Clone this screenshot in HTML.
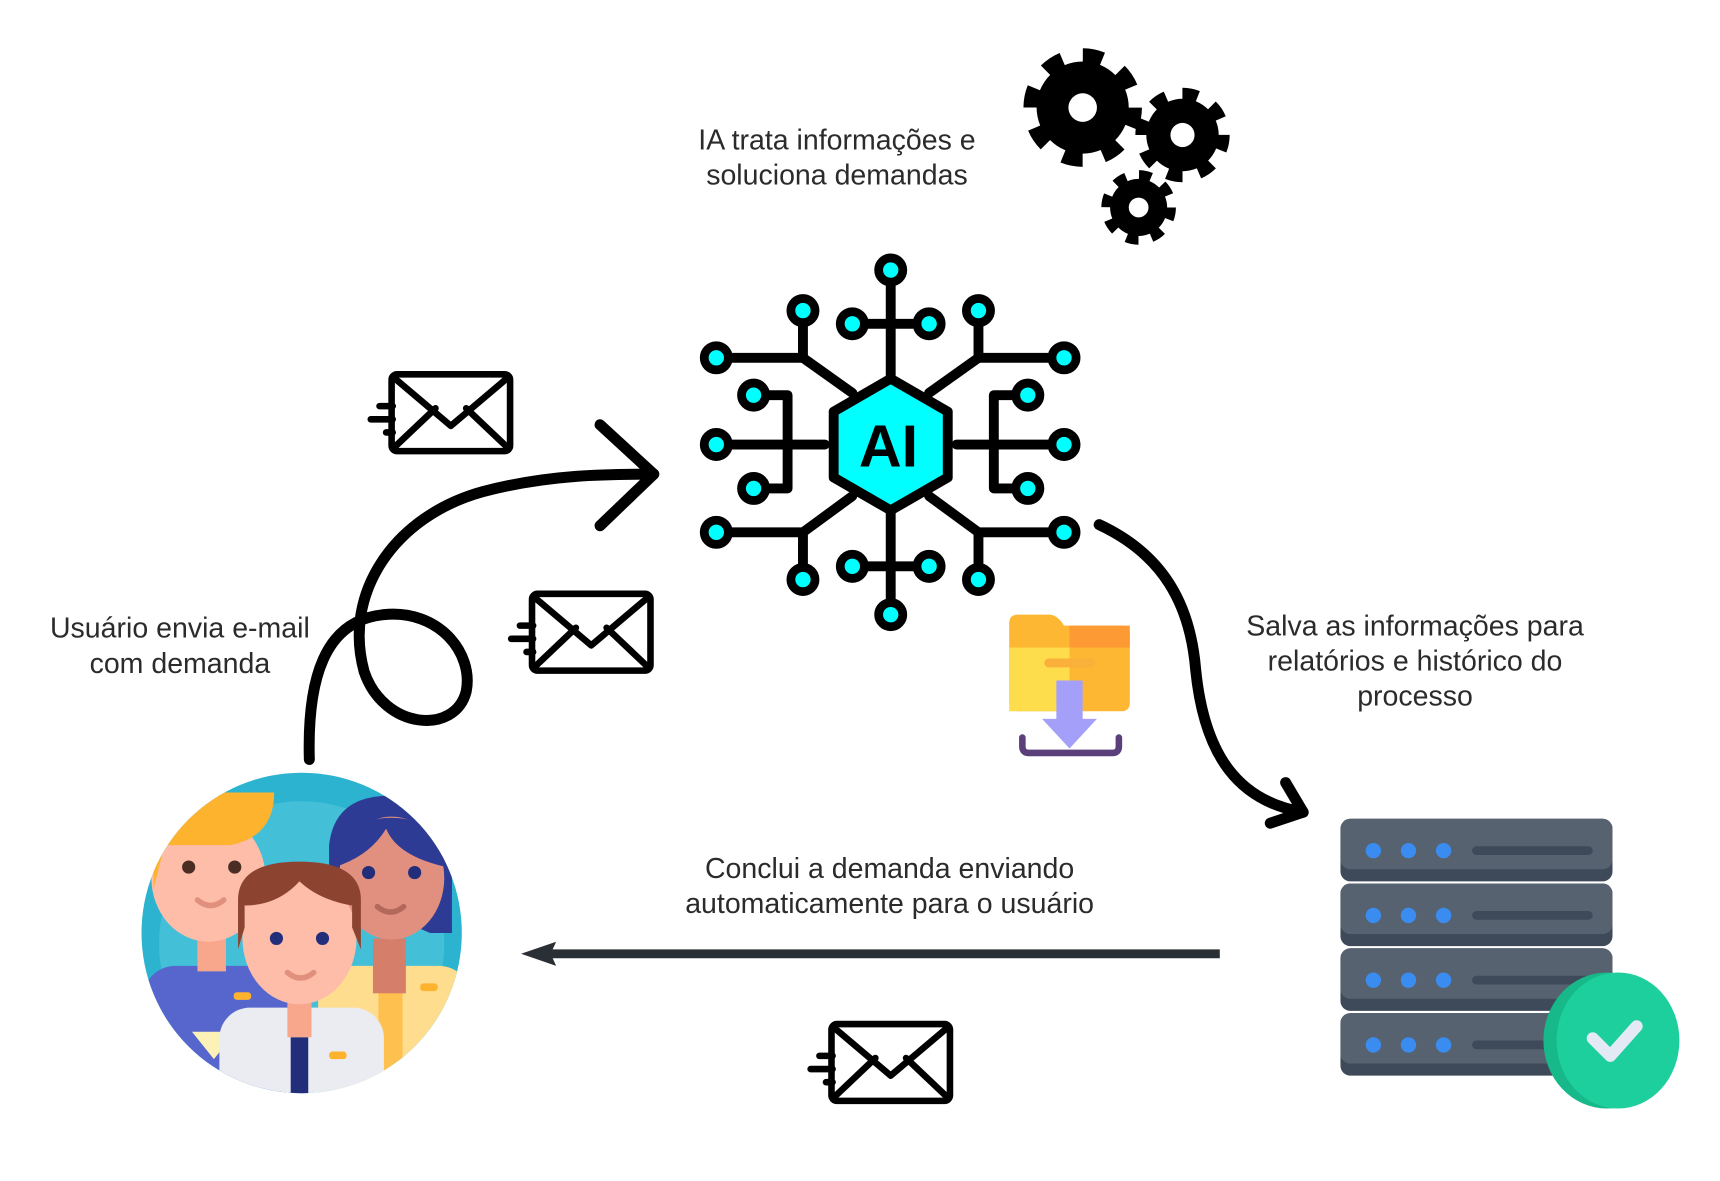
<!DOCTYPE html>
<html><head><meta charset="utf-8"><style>
html,body{margin:0;padding:0;background:#fff;}
svg{display:block}
text{font-family:"Liberation Sans",sans-serif;fill:#2b2b2b;font-size:26px;text-anchor:middle}
</style></head><body>
<svg width="1720" height="1181" viewBox="0 0 1568 1076" preserveAspectRatio="none" xmlns="http://www.w3.org/2000/svg">
<!-- texts -->
<text x="763" y="136">IA trata informações e</text>
<text x="763" y="168">soluciona demandas</text>
<text x="164" y="581">Usuário envia e-mail</text>
<text x="164" y="613">com demanda</text>
<text x="1290" y="579">Salva as informações para</text>
<text x="1290" y="611">relatórios e histórico do</text>
<text x="1290" y="643">processo</text>
<text x="811" y="800">Conclui a demanda enviando</text>
<text x="811" y="832">automaticamente para o usuário</text>

<!-- gears -->
<g fill="#000">
 <circle cx="987" cy="98" r="42"/>
 <circle cx="987" cy="98" r="47" fill="none" stroke="#000" stroke-width="14" stroke-dasharray="18 18.9"/>
 <circle cx="987" cy="98" r="13" fill="#fff"/>
 <circle cx="1078" cy="123" r="33"/>
 <circle cx="1078" cy="123" r="37" fill="none" stroke="#000" stroke-width="12" stroke-dasharray="14 15"/>
 <circle cx="1078" cy="123" r="11" fill="#fff"/>
 <circle cx="1038" cy="189" r="26"/>
 <circle cx="1038" cy="189" r="29" fill="none" stroke="#000" stroke-width="10" stroke-dasharray="11 11.8"/>
 <circle cx="1038" cy="189" r="9" fill="#fff"/>
</g>

<!-- AI chip -->
<g stroke="#000" stroke-width="9" fill="none" stroke-linecap="round" stroke-linejoin="round">
 <line x1="812" y1="256" x2="812" y2="345"/>
 <line x1="786" y1="295" x2="838" y2="295"/>
 <line x1="812" y1="465" x2="812" y2="552"/>
 <line x1="786" y1="516" x2="838" y2="516"/>
 <polyline points="777,358 732,326 732,292"/>
 <line x1="732" y1="326" x2="662" y2="326"/>
 <polyline points="847,358 892,326 892,292"/>
 <line x1="892" y1="326" x2="962" y2="326"/>
 <polyline points="777,452 732,485 732,520"/>
 <line x1="732" y1="485" x2="662" y2="485"/>
 <polyline points="847,452 892,485 892,520"/>
 <line x1="892" y1="485" x2="962" y2="485"/>
 <line x1="752" y1="405" x2="662" y2="405"/>
 <polyline points="696,360 718,360 718,445 696,445"/>
 <line x1="872" y1="405" x2="962" y2="405"/>
 <polyline points="928,360 906,360 906,445 928,445"/>
 <polygon points="812,345 864,375 864,435 812,465 760,435 760,375" fill="#0ff"/>
</g>
<g fill="#0ff" stroke="#000" stroke-width="8">
 <circle cx="812" cy="246" r="11"/><circle cx="777" cy="295" r="11"/><circle cx="847" cy="295" r="11"/>
 <circle cx="732" cy="283" r="11"/><circle cx="892" cy="283" r="11"/>
 <circle cx="653" cy="326" r="11"/><circle cx="970" cy="326" r="11"/>
 <circle cx="687" cy="360" r="11"/><circle cx="937" cy="360" r="11"/>
 <circle cx="653" cy="405" r="11"/><circle cx="970" cy="405" r="11"/>
 <circle cx="687" cy="445" r="11"/><circle cx="937" cy="445" r="11"/>
 <circle cx="653" cy="485" r="11"/><circle cx="970" cy="485" r="11"/>
 <circle cx="777" cy="516" r="11"/><circle cx="847" cy="516" r="11"/>
 <circle cx="732" cy="528" r="11"/><circle cx="892" cy="528" r="11"/>
 <circle cx="812" cy="560" r="11"/>
</g>
<text x="810" y="425" style="font-size:54px;font-weight:bold;fill:#000">AI</text>

<!-- envelopes -->
<g id="env" fill="none" stroke="#000" stroke-width="6" stroke-linecap="round" stroke-linejoin="round">
 <rect x="357" y="341" width="108" height="70" rx="5"/>
 <polyline points="359,344 411,388 463,344"/>
 <line x1="359" y1="408" x2="397" y2="372"/>
 <line x1="463" y1="408" x2="425" y2="372"/>
 <line x1="346" y1="370" x2="358" y2="370"/>
 <line x1="338" y1="382" x2="358" y2="382"/>
 <line x1="352" y1="394" x2="358" y2="394"/>
</g>
<use href="#env" x="128" y="200"/>
<use href="#env" x="401" y="592"/>

<!-- curved arrow left -->
<g fill="none" stroke="#000" stroke-width="10" stroke-linecap="round" stroke-linejoin="round">
 <path d="M282,692 C280,620 295,565 350,560 C400,555 432,595 425,630 C415,670 350,665 332,612 C312,540 360,470 440,448 C500,432 555,432 596,432"/>
 <polyline points="547,387 596,432 547,479"/>
 <path d="M1002,478 C1060,505 1085,550 1090,610 C1098,690 1130,730 1188,740"/>
 <polyline points="1172,713 1188,740 1158,750"/>
</g>

<!-- bottom arrow -->
<line x1="1112" y1="869" x2="500" y2="869" stroke="#2a2e35" stroke-width="8"/>
<polygon points="475,869 507,858 502,869 507,880" fill="#2a2e35"/>

<!-- folder -->
<g>
 <path d="M920,568 q0,-8 8,-8 h28 q8,0 14,10 h52 q8,0 8,8 v62 q0,8 -8,8 h-94 q-8,0 -8,-8z" fill="#fdb733"/>
 <rect x="975" y="570" width="55" height="20" fill="#fd9a33"/>
 <rect x="920" y="590" width="55" height="58" fill="#fedd4c"/>
 <rect x="952" y="600" width="46" height="8" rx="4" fill="#fbb03b"/>
 <rect x="963" y="620" width="24" height="40" fill="#a4a0f9"/>
 <polygon points="950,655 1000,655 975,682" fill="#a4a0f9"/>
 <path d="M932,672 v8 q0,6 6,6 h76 q6,0 6,-6 v-8" fill="none" stroke="#5a3f7a" stroke-width="6" stroke-linecap="round"/>
</g>

<!-- server -->
<g>
 <g id="unit">
  <rect x="1222" y="746" width="248" height="57" rx="9" fill="#3e4a59"/>
  <rect x="1222" y="746" width="248" height="46" rx="9" fill="#56626f"/>
  <circle cx="1252" cy="775" r="7" fill="#3b8cf0"/>
  <circle cx="1284" cy="775" r="7" fill="#3b8cf0"/>
  <circle cx="1316" cy="775" r="7" fill="#3b8cf0"/>
  <rect x="1342" y="771" width="110" height="8" rx="4" fill="#3e4a59"/>
 </g>
 <use href="#unit" y="59"/><use href="#unit" y="118"/><use href="#unit" y="177"/>
 <ellipse cx="1465" cy="948" rx="58" ry="62" fill="#17b889"/>
 <ellipse cx="1475" cy="948" rx="56" ry="62" fill="#1ecf9e"/>
 <polyline points="1452,946 1468,962 1492,935" fill="none" stroke="#e3e9f5" stroke-width="11" stroke-linecap="round" stroke-linejoin="round"/>
</g>

<!-- people -->
<defs><clipPath id="pc"><circle cx="275" cy="850" r="146"/></clipPath></defs>
<g clip-path="url(#pc)">
 <rect x="120" y="700" width="310" height="300" fill="#2bb3cf"/>
 <circle cx="275" cy="860" r="130" fill="#44bfd8"/>
 <rect x="130" y="880" width="140" height="130" rx="30" fill="#5766cd"/>
 <polygon points="175,940 195,965 215,940" fill="#fcf2b8"/>
 <rect x="180" y="840" width="26" height="45" fill="#f8a78d"/>
 <ellipse cx="190" cy="800" rx="52" ry="58" fill="#fdbda9"/>
 <path d="M140,810 v-50 q5,-38 45,-38 h65 q0,40 -40,48 h-60 z" fill="#fdb32e"/>
 <circle cx="172" cy="790" r="6" fill="#4a2d23"/><circle cx="214" cy="790" r="6" fill="#4a2d23"/>
 <path d="M180,820 q12,10 24,0" fill="none" stroke="#e0907d" stroke-width="5" stroke-linecap="round"/>
 <path d="M300,810 v-40 q5,-45 55,-45 q55,0 57,45 v80 h-20 z" fill="#2e3b95"/>
 <rect x="290" y="880" width="140" height="130" rx="30" fill="#fedd8f"/>
 <rect x="345" y="890" width="22" height="120" fill="#fec04e"/>
 <rect x="340" y="855" width="30" height="50" fill="#d57e6a"/>
 <ellipse cx="357" cy="800" rx="48" ry="56" fill="#e19080"/>
 <path d="M305,790 q10,-45 52,-45 q42,0 50,45 q-45,-10 -55,-35 q-15,25 -47,35z" fill="#2e3b95"/>
 <circle cx="336" cy="795" r="6" fill="#232e7a"/><circle cx="378" cy="795" r="6" fill="#232e7a"/>
 <path d="M344,826 q12,10 24,0" fill="none" stroke="#b3695a" stroke-width="5" stroke-linecap="round"/>
 <rect x="200" y="918" width="150" height="100" rx="28" fill="#ebecf1"/>
 <rect x="265" y="945" width="16" height="60" fill="#232e7a"/>
 <rect x="262" y="900" width="22" height="45" fill="#f8a78d"/>
 <ellipse cx="273" cy="855" rx="52" ry="60" fill="#fdbda9"/>
 <path d="M217,865 v-45 q0,-35 56,-35 q56,0 56,35 v45 l-8,-20 v-20 q-30,-5 -48,-22 q-20,22 -50,22 v20 z" fill="#8c4431"/>
 <circle cx="252" cy="855" r="6" fill="#232e7a"/><circle cx="294" cy="855" r="6" fill="#232e7a"/>
 <path d="M262,886 q12,10 24,0" fill="none" stroke="#e0907d" stroke-width="5" stroke-linecap="round"/>
 <rect x="300" y="958" width="16" height="7" rx="3" fill="#fdb32e"/>
 <rect x="213" y="904" width="16" height="7" rx="3" fill="#fdb32e"/>
 <rect x="383" y="896" width="16" height="7" rx="3" fill="#fdb32e"/>
</g>
</svg>
</body></html>
